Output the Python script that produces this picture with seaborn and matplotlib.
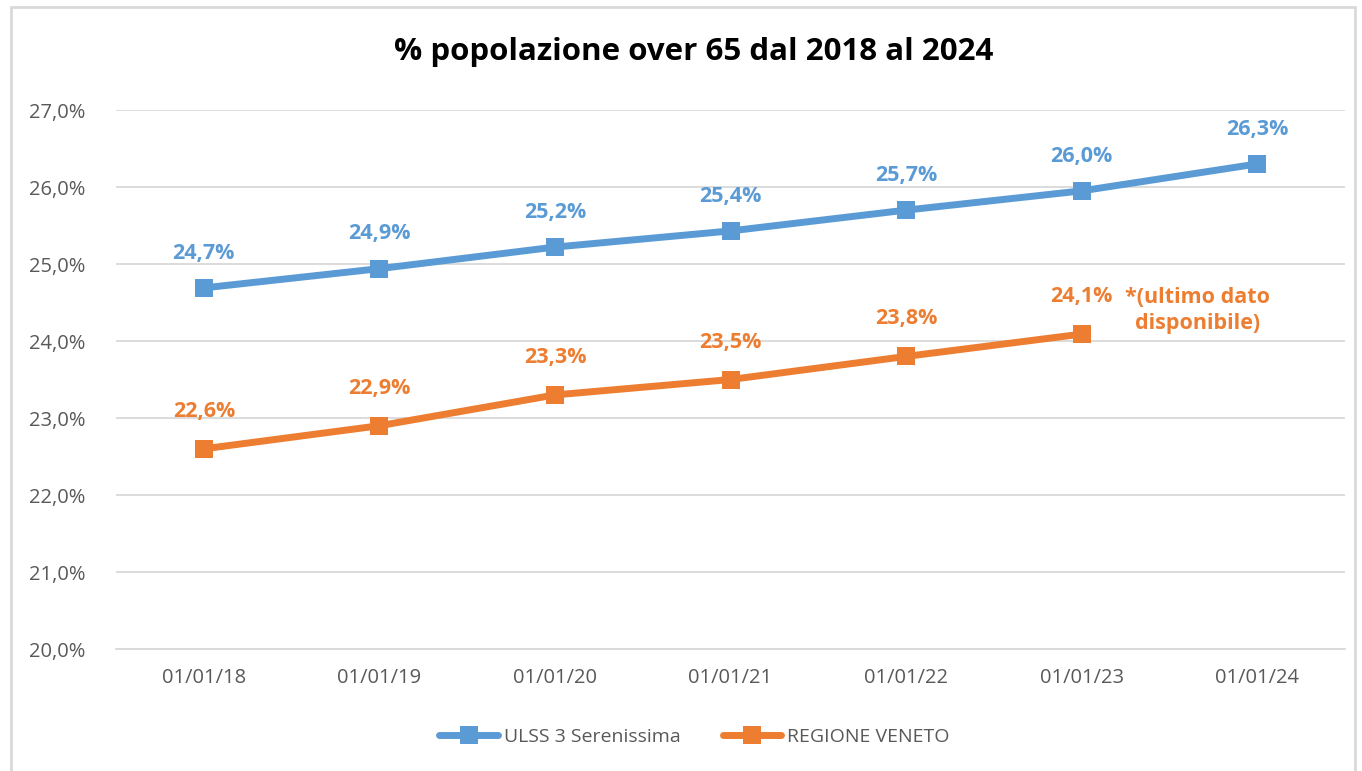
import pandas as pd
import seaborn as sns
import matplotlib.pyplot as plt
from matplotlib.patches import Rectangle
from matplotlib.ticker import FuncFormatter

date = ["01/01/18", "01/01/19", "01/01/20", "01/01/21", "01/01/22", "01/01/23", "01/01/24"]
ulss = [24.69, 24.94, 25.22, 25.43, 25.70, 25.95, 26.30]
ulss_lbl = ["24,7%", "24,9%", "25,2%", "25,4%", "25,7%", "26,0%", "26,3%"]
veneto = [22.60, 22.90, 23.30, 23.50, 23.80, 24.09]
veneto_lbl = ["22,6%", "22,9%", "23,3%", "23,5%", "23,8%", "24,1%"]

BLUE = "#5B9BD5"
ORANGE = "#ED7D31"
GREY = "#595959"

df = pd.concat([
    pd.DataFrame({"data": date, "valore": ulss, "serie": "ULSS 3 Serenissima"}),
    pd.DataFrame({"data": date[:len(veneto)], "valore": veneto, "serie": "REGIONE VENETO"}),
])

sns.set_style("white")
plt.rcParams['font.family'] = ['Open Sans', 'DejaVu Sans']

fig = plt.figure(figsize=(13.62, 7.71), dpi=100)
ax = fig.add_axes([0.0852, 0.1582, 0.9023, 0.6991])

sns.lineplot(data=df, x="data", y="valore", hue="serie",
             palette=[BLUE, ORANGE], marker="s", markersize=13,
             markeredgewidth=0, linewidth=5, ax=ax, sort=False)

for i, (v, t) in enumerate(zip(ulss, ulss_lbl)):
    ax.annotate(t, (i, v), xytext=(0, 25), textcoords="offset points",
                ha="center", va="center", color=BLUE, fontsize=15.5, fontweight="bold")
for i, (v, t) in enumerate(zip(veneto, veneto_lbl)):
    ax.annotate(t, (i, v), xytext=(0, 27), textcoords="offset points",
                ha="center", va="center", color=ORANGE, fontsize=15.5, fontweight="bold")
# nota accanto all'ultimo dato regionale
ax.annotate("*(ultimo dato\ndisponibile)", (len(veneto) - 1, veneto[-1]),
            xytext=(31, 17), textcoords="offset points", ha="left", va="center",
            multialignment="center", color=ORANGE, fontsize=15.5, fontweight="bold",
            linespacing=1.35)

ax.set_xlim(-0.5, len(date) - 0.5)
ax.set_ylim(20, 27)
ax.set_yticks(range(20, 28))
ax.yaxis.set_major_formatter(FuncFormatter(lambda v, p: f"{v:.1f}%".replace(".", ",")))
ax.set_xticks(range(len(date)))
ax.set_xticks([i - 0.5 for i in range(len(date) + 1)], minor=True)
ax.tick_params(axis="x", which="major", length=0, pad=14, labelsize=14.5, labelcolor=GREY)
ax.tick_params(axis="x", which="minor", length=6, color="#D9D9D9", width=1.2)
ax.tick_params(axis="y", length=0, pad=22, labelsize=14.5, labelcolor=GREY)
ax.grid(axis="y", color="#D9D9D9", linewidth=1.3)
ax.set_axisbelow(True)
for s in ["top", "right", "left"]:
    ax.spines[s].set_visible(False)
ax.spines["bottom"].set_color("#D9D9D9")
ax.spines["bottom"].set_linewidth(1.3)
ax.set_xlabel("")
ax.set_ylabel("")

handles, labels = ax.get_legend_handles_labels()
ax.get_legend().remove()
fig.legend(handles, labels, loc="center", bbox_to_anchor=(0.51, 0.044), ncol=2,
           frameon=False, fontsize=14, labelcolor=GREY, handlelength=3,
           columnspacing=2.2, handletextpad=0.3)

fig.text(0.509, 0.933, "% popolazione over 65 dal 2018 al 2024", ha="center", va="center",
         fontsize=22.5, fontweight="bold", color="black")

fig.patches.append(Rectangle((0.008, -0.01), 0.987, 1.001,
                             transform=fig.transFigure, fill=False,
                             edgecolor="#D9D9D9", linewidth=2))

fig.savefig("out.png", dpi=100, facecolor="white")
